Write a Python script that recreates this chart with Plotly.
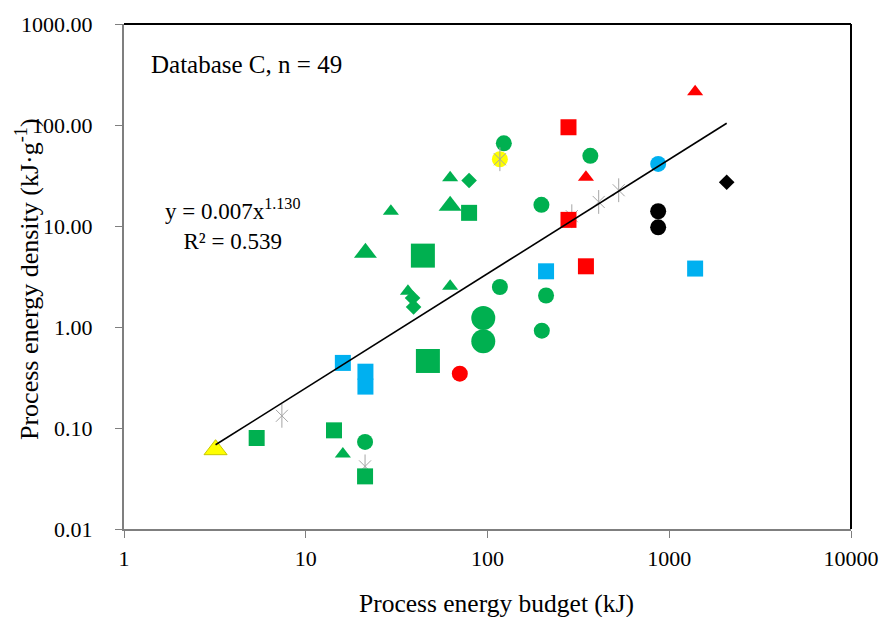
import numpy as np
import plotly.graph_objects as go

# ---------------- data ----------------
GREEN_CIRCLE_X = [123, 368, 198, 117, 210, 199, 21.2]
GREEN_CIRCLE_Y = [65.9, 49.5, 16.2, 2.49, 2.05, 0.92, 0.0728]
GREEN_CIRCLE_BIG_X = [94.8, 94.8]
GREEN_CIRCLE_BIG_Y = [1.23, 0.721]
RED_CIRCLE_X = [70.4]
RED_CIRCLE_Y = [0.345]
BLUE_CIRCLE_X = [869]
BLUE_CIRCLE_Y = [41.2]
BLACK_CIRCLE_X = [869, 869]
BLACK_CIRCLE_Y = [14.0, 9.71]
YELLOW_CIRCLE_X = [117]
YELLOW_CIRCLE_Y = [45.8]

GREEN_TRI_X = [62.3, 29.4, 36.5, 62.3, 16.0]
GREEN_TRI_Y = [30.0, 14.0, 2.26, 2.53, 0.0553]
GREEN_TRI_BIG_X = [62.3, 21.3]
GREEN_TRI_BIG_Y = [15.9, 5.42]
RED_TRI_X = [348, 1388]
RED_TRI_Y = [30.4, 213]
YELLOW_TRI_X = [3.19]
YELLOW_TRI_Y = [0.061]

GREEN_DIAMOND_X = [79.2, 38.7, 39.2]
GREEN_DIAMOND_Y = [28.2, 1.94, 1.58]
BLACK_DIAMOND_X = [2070]
BLACK_DIAMOND_Y = [27.1]

GRAY_STAR_X = [291, 409, 527, 117, 7.39, 21.2]
GRAY_STAR_Y = [12.5, 17.3, 22.6, 45.8, 0.132, 0.0417]

GREEN_SQUARE_X = [79.2, 5.37, 14.3, 21.2]
GREEN_SQUARE_Y = [13.5, 0.0796, 0.0948, 0.0332]
GREEN_SQUARE_BIG_X = [44.1, 47.0]
GREEN_SQUARE_BIG_Y = [5.09, 0.461]
BLUE_SQUARE_X = [16.0, 21.3, 21.3, 210, 1388]
BLUE_SQUARE_Y = [0.441, 0.361, 0.257, 3.56, 3.79]
RED_SQUARE_X = [279, 279, 348]
RED_SQUARE_Y = [95, 11.5, 3.99]

Y_TICKS = [0.01, 0.1, 1, 10, 100, 1000]
Y_TICK_TEXT = ["0.01", "0.10", "1.00", "10.00", "100.00", "1000.00"]
X_TICKS = [1, 10, 100, 1000, 10000]
X_TICK_TEXT = ["1", "10", "100", "1000", "10000"]

GREEN = "#00B050"
BLUE = "#00B0F0"
RED = "#FF0000"
YELLOW = "#FFFF00"
BLACK = "#000000"
GRAY = "#A6A6A6"

FONT = "Liberation Serif, Times New Roman, serif"

W, H = 880, 617
L, R, T, B = 124, 29, 24, 88

fig = go.Figure()


def add(xs, ys, symbol, color, size, line_color=None, line_width=0):
    fig.add_trace(go.Scatter(
        x=xs, y=ys, mode="markers", showlegend=False, hoverinfo="x+y",
        marker=dict(symbol=symbol, color=color, size=size,
                    line=dict(color=line_color or color, width=line_width)),
    ))


# circles
add(GREEN_CIRCLE_X, GREEN_CIRCLE_Y, "circle", GREEN, 16)
add(GREEN_CIRCLE_BIG_X, GREEN_CIRCLE_BIG_Y, "circle", GREEN, 24)
add(RED_CIRCLE_X, RED_CIRCLE_Y, "circle", RED, 16)
add(BLUE_CIRCLE_X, BLUE_CIRCLE_Y, "circle", BLUE, 16)
add(BLACK_CIRCLE_X, BLACK_CIRCLE_Y, "circle", BLACK, 16)
add(YELLOW_CIRCLE_X, YELLOW_CIRCLE_Y, "circle", YELLOW, 16)
# triangles
add(GREEN_TRI_X, GREEN_TRI_Y, "triangle-up", GREEN, 14)
add(GREEN_TRI_BIG_X, GREEN_TRI_BIG_Y, "triangle-up", GREEN, 20)
add(RED_TRI_X, RED_TRI_Y, "triangle-up", RED, 14)
add(YELLOW_TRI_X, YELLOW_TRI_Y, "triangle-up", YELLOW, 20, "#C8C800", 1)
# diamonds
add(GREEN_DIAMOND_X, GREEN_DIAMOND_Y, "diamond", GREEN, 12)
add(BLACK_DIAMOND_X, BLACK_DIAMOND_Y, "diamond", BLACK, 12)
# asterisks (vertical stroke + X)
add(GRAY_STAR_X, GRAY_STAR_Y, "x-thin-open", GRAY, 12, GRAY, 1)
add(GRAY_STAR_X, GRAY_STAR_Y, "line-ns-open", GRAY, 17, GRAY, 1)
# squares
add(GREEN_SQUARE_X, GREEN_SQUARE_Y, "square", GREEN, 16)
add(GREEN_SQUARE_BIG_X, GREEN_SQUARE_BIG_Y, "square", GREEN, 24)
add(BLUE_SQUARE_X, BLUE_SQUARE_Y, "square", BLUE, 16)
add(RED_SQUARE_X, RED_SQUARE_Y, "square", RED, 16)

# power-law trend line fitted (log-log least squares) on all points
all_x = np.array(GREEN_CIRCLE_X + GREEN_CIRCLE_BIG_X + RED_CIRCLE_X + BLUE_CIRCLE_X
                 + BLACK_CIRCLE_X + YELLOW_CIRCLE_X + GREEN_TRI_X + GREEN_TRI_BIG_X
                 + RED_TRI_X + YELLOW_TRI_X + GREEN_DIAMOND_X + BLACK_DIAMOND_X
                 + GRAY_STAR_X + GREEN_SQUARE_X + GREEN_SQUARE_BIG_X + BLUE_SQUARE_X
                 + RED_SQUARE_X, dtype=float)
all_y = np.array(GREEN_CIRCLE_Y + GREEN_CIRCLE_BIG_Y + RED_CIRCLE_Y + BLUE_CIRCLE_Y
                 + BLACK_CIRCLE_Y + YELLOW_CIRCLE_Y + GREEN_TRI_Y + GREEN_TRI_BIG_Y
                 + RED_TRI_Y + YELLOW_TRI_Y + GREEN_DIAMOND_Y + BLACK_DIAMOND_Y
                 + GRAY_STAR_Y + GREEN_SQUARE_Y + GREEN_SQUARE_BIG_Y + BLUE_SQUARE_Y
                 + RED_SQUARE_Y, dtype=float)
slope, icpt = np.polyfit(np.log10(all_x), np.log10(all_y), 1)
tx = np.logspace(np.log10(all_x.min()), np.log10(all_x.max()), 60)
ty = 10 ** icpt * tx ** slope
fig.add_trace(go.Scatter(x=tx, y=ty, mode="lines", showlegend=False, hoverinfo="skip",
                         line=dict(color="black", width=1.6)))

pw = W - L - R
ph = H - T - B


def px(xpix):
    return (xpix - L) / pw


def py(ypix):
    return (H - B - ypix) / ph


annotations = [
    dict(text="Database C, n = 49", x=px(149), y=py(65), xref="paper", yref="paper",
         xanchor="left", yanchor="middle", showarrow=False,
         font=dict(family=FONT, size=25, color="black")),
    dict(text="y = 0.007x<sup>1.130</sup><br>R² = 0.539", x=px(232), y=py(224),
         xref="paper", yref="paper", xanchor="center", yanchor="middle", align="center",
         showarrow=False, font=dict(family=FONT, size=23, color="black")),
    dict(text="Process energy budget (kJ)", x=px(496), y=py(603), xref="paper", yref="paper",
         xanchor="center", yanchor="middle", showarrow=False,
         font=dict(family=FONT, size=25.5, color="black")),
    dict(text="Process energy density (kJ·g<sup>-1</sup>)", x=px(27), y=py(279),
         xref="paper", yref="paper", xanchor="center", yanchor="middle", textangle=-90,
         showarrow=False, font=dict(family=FONT, size=26, color="black")),
]

shapes = [
    dict(type="line", xref="paper", yref="paper", x0=0, x1=1, y0=1, y1=1,
         line=dict(color="black", width=2)),
    dict(type="line", xref="paper", yref="paper", x0=1, x1=1, y0=0, y1=1,
         line=dict(color="black", width=2)),
]

fig.update_layout(
    width=W, height=H,
    margin=dict(l=L, r=R, t=T, b=B, autoexpand=False),
    paper_bgcolor="white", plot_bgcolor="white",
    font=dict(family=FONT, color="black"),
    annotations=annotations, shapes=shapes,
    xaxis=dict(type="log", range=[0, 4], tickvals=X_TICKS, ticktext=X_TICK_TEXT,
               showgrid=False, zeroline=False, showline=True, linecolor="#7F7F7F",
               linewidth=2, ticks="outside", ticklen=7, tickcolor="#7F7F7F", tickwidth=1,
               tickfont=dict(family=FONT, size=22, color="black"), ticklabelstandoff=2),
    yaxis=dict(type="log", range=[-2, 3], tickvals=Y_TICKS, ticktext=Y_TICK_TEXT,
               showgrid=False, zeroline=False, showline=True, linecolor="#7F7F7F",
               linewidth=2, ticks="outside", ticklen=7, tickcolor="#7F7F7F", tickwidth=1,
               tickfont=dict(family=FONT, size=22, color="black"), ticklabelstandoff=18),
)

fig.write_html("out.html")
